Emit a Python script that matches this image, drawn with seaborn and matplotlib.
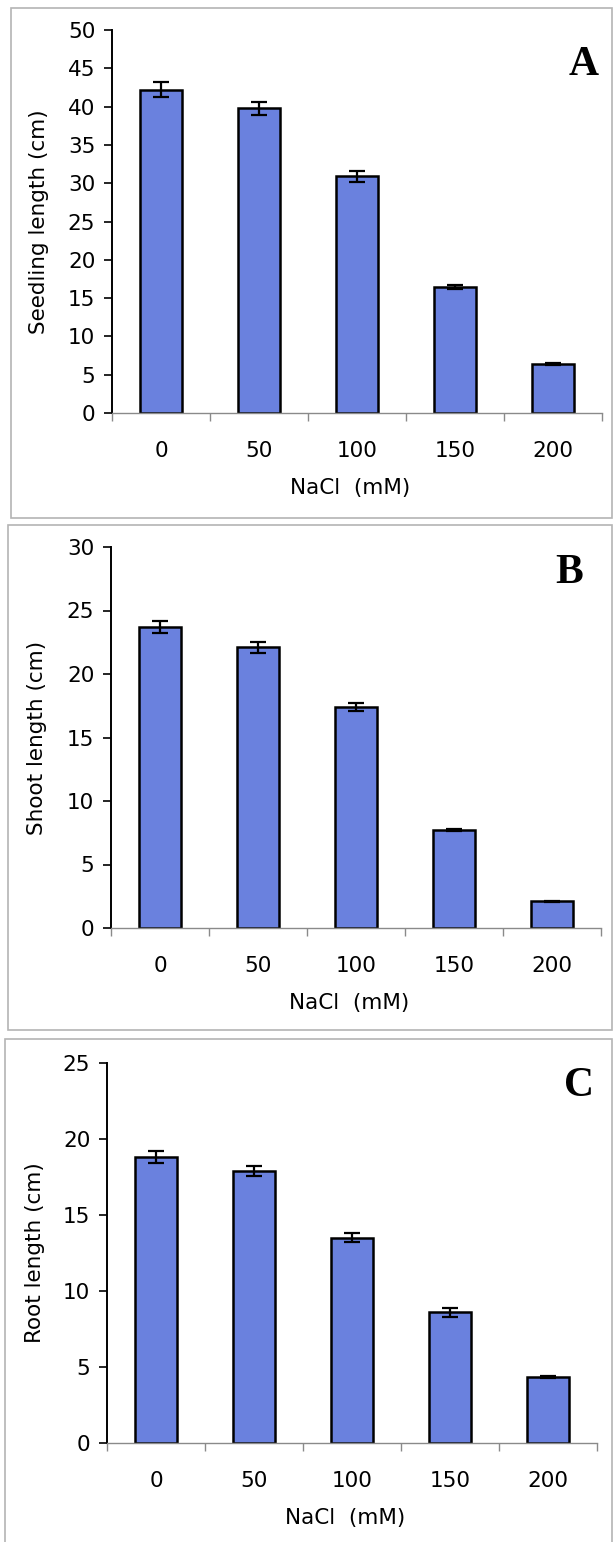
import numpy as np
import pandas as pd
import matplotlib
matplotlib.use("Agg")
import matplotlib.pyplot as plt
from matplotlib.patches import Rectangle
from matplotlib.ticker import FixedLocator
import seaborn as sns

# NaCl treatment levels (mM)
nacl_levels = ["0", "50", "100", "150", "200"]

# Seedling length (cm): mean and standard error
seedling_mean = [42.2, 39.8, 30.9, 16.5, 6.4]
seedling_err = [1.0, 0.85, 0.7, 0.25, 0.1]

# Shoot length (cm)
shoot_mean = [23.7, 22.1, 17.4, 7.7, 2.1]
shoot_err = [0.5, 0.45, 0.3, 0.1, 0.05]

# Root length (cm)
root_mean = [18.8, 17.9, 13.5, 8.6, 4.35]
root_err = [0.4, 0.35, 0.3, 0.28, 0.05]

panel_letters = ["A", "B", "C"]
y_labels = ["Seedling length (cm)", "Shoot length (cm)", "Root length (cm)"]
y_limits = [50, 30, 25]

sns.set_theme(style="white")
plt.rcParams["font.family"] = ["DejaVu Sans"]
plt.rcParams["text.color"] = "black"
plt.rcParams["axes.labelcolor"] = "black"
plt.rcParams["xtick.color"] = "black"
plt.rcParams["ytick.color"] = "black"

W, H = 613, 1542
fig = plt.figure(figsize=(W / 100, H / 100), dpi=100)
fig.patch.set_facecolor("white")

# axes frames in pixels: left, right, top (ymax), bottom (y=0)
frames = [(112, 602, 30, 413), (111, 601, 547, 928), (107, 597, 1063, 1443)]
# panel boxes in pixels: left, right, top, bottom
boxes = [(11, 612, 8, 518), (8, 612, 525, 1030), (5, 612, 1039, 1548)]
letter_pos = [(584, 65), (569, 573), (579, 1086)]
ylab_x = [-0.150, -0.151, -0.147]

bar_color = "#6A81DE"
series = [(seedling_mean, seedling_err), (shoot_mean, shoot_err), (root_mean, root_err)]

for i, ((mean, err), (l, r, t, b)) in enumerate(zip(series, frames)):
    bl, br, bt, bb = boxes[i]
    fig.add_artist(Rectangle((bl / W, 1 - bb / H), (br - bl) / W, (bb - bt) / H,
                             transform=fig.transFigure, fill=False,
                             edgecolor="#b4b4b4", linewidth=1.2))

    ax = fig.add_axes([l / W, 1 - b / H, (r - l) / W, (b - t) / H])
    ax.set_facecolor("none")
    df = pd.DataFrame({"NaCl": nacl_levels, "length": mean})
    sns.barplot(data=df, x="NaCl", y="length", color=bar_color, saturation=1,
                width=0.42, edgecolor="black", linewidth=1.8, errorbar=None, ax=ax)
    ax.errorbar(np.arange(len(mean)), mean, yerr=err, fmt="none", ecolor="black",
                elinewidth=1.6, capsize=6, capthick=1.6, zorder=5)

    ax.set_xlim(-0.5, len(mean) - 0.5)
    ax.set_ylim(0, y_limits[i])
    ax.set_yticks(np.arange(0, y_limits[i] + 1, 5))

    for side in ["top", "right"]:
        ax.spines[side].set_visible(False)
    ax.spines["left"].set_color("black")
    ax.spines["left"].set_linewidth(1.4)
    ax.spines["bottom"].set_color("#8a8a8a")
    ax.spines["bottom"].set_linewidth(1.0)

    ax.tick_params(axis="y", which="major", direction="out", length=6, width=1.2,
                   color="black", labelcolor="black", labelsize=15.5, pad=6, left=True)
    ax.tick_params(axis="x", which="major", length=0, labelsize=15.5,
                   labelcolor="black", pad=20)
    ax.xaxis.set_minor_locator(FixedLocator(np.arange(-0.5, len(mean), 1.0)))
    ax.tick_params(axis="x", which="minor", direction="out", length=6, width=1.0,
                   color="#8a8a8a", bottom=True)

    ax.set_xlabel("NaCl  (mM)", fontsize=15.5, color="black")
    ax.xaxis.set_label_coords(0.486, -0.170)
    ax.set_ylabel(y_labels[i], fontsize=15.5, va="center", color="black")
    ax.yaxis.set_label_coords(ylab_x[i], 0.5)

    lx, ly = letter_pos[i]
    fig.text(lx / W, 1 - ly / H, panel_letters[i], fontsize=30, fontweight="bold",
             family="Liberation Serif", color="black", ha="center", va="center")

fig.savefig("out.png", dpi=100, facecolor="white")
